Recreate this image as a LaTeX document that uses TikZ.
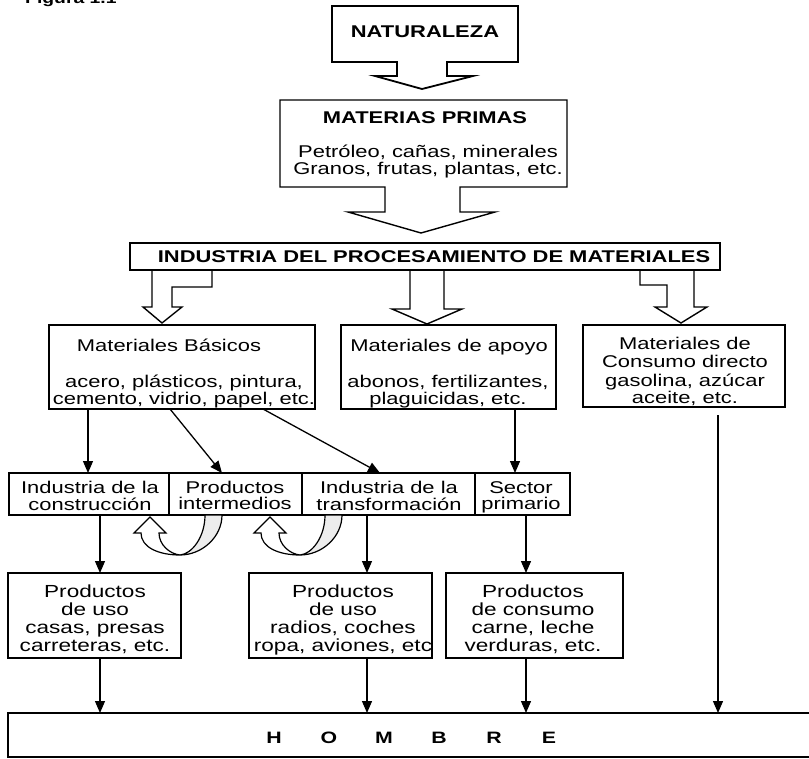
\documentclass[tikz,border=0pt]{standalone}
\usepackage{fontspec}
\setmainfont{Liberation Sans}[FakeStretch=1.29]
\usetikzlibrary{arrows.meta}
\newcommand\ctab[1]{\begin{tabular}[t]{@{}c@{}}#1\end{tabular}}

\begin{document}
\begin{tikzpicture}[x=1pt,y=-1pt,
  box/.style={draw, line width=1.3pt, inner sep=0pt, outer sep=0pt},
  blk/.style={draw, line width=1.4pt, line join=miter},
  txt/.style={anchor=base, inner sep=0pt, font=\fontsize{17}{15.5}\selectfont},
  hdr/.style={txt, font=\fontsize{17}{15.5}\selectfont\bfseries},
  low/.style={anchor=base, inner sep=0pt, font=\fontsize{17.5}{18}\selectfont},
  arr/.style={line width=1.3pt, -{Triangle[length=12pt,width=10pt]}},
  uturn/.pic={
    % twisted band behind the turn
    \filldraw[line width=1.2pt, fill=black!7]
      (0,0) .. controls (22,0) and (42,-18) .. (42,-40)
      -- (25,-40) .. controls (25,-18) and (12,-1) .. (0,0) -- cycle;
    % returning half with its head
    \filldraw[line width=1.2pt, fill=white, line join=miter]
      (0,0) .. controls (-22,0) and (-39,-8) .. (-39,-22)
      -- (-46,-22) -- (-30,-38) -- (-14,-22) -- (-21,-22)
      .. controls (-21,-10) and (-10,-1) .. (0,0) -- cycle;
  }]
\useasboundingbox (0,0) rectangle (809,759);
\clip (0,0) rectangle (809,759);

% caption, cut by the top edge
\node[anchor=base west, inner sep=0pt, font=\fontsize{15}{15}\selectfont\bfseries] (fig) at (25,4) {Figura 1.1};

% NATURALEZA with its downward arrow
\draw[blk, line width=1.8pt] (332,6) -- (518,6) -- (518,62) -- (447,62) -- (447,76) -- (473,76)
  -- (422,89) -- (375,76) -- (397,76) -- (397,62) -- (332,62) -- cycle;
\node[hdr] (nat) at (425,38) {NATURALEZA};

% MATERIAS PRIMAS with its downward arrow
\draw[blk] (280,100) -- (567,100) -- (567,187) -- (460,187) -- (460,212) -- (495,212)
  -- (421,233) -- (348,212) -- (385,212) -- (385,187) -- (280,187) -- cycle;
\node[hdr] (mpt) at (425,124) {MATERIAS PRIMAS};
\node[txt] (mpl) at (428,158) {\ctab{Petróleo, cañas, minerales\\Granos, frutas, plantas, etc.}};

% processing industry bar
\node[box, minimum width=590pt, minimum height=27pt] (ind) at (425,256.5) {};
\node[hdr] (indt) at (434,263) {INDUSTRIA DEL PROCESAMIENTO DE MATERIALES};

% block arrows leaving the bar
\draw[blk] (152,270) -- (152,307) -- (143,307) -- (162,323) -- (182,307) -- (172,307)
  -- (172,287) -- (212,287) -- (212,270);
\draw[blk] (410,270) -- (410,309) -- (392,309) -- (427,324) -- (462,309) -- (444,309) -- (444,270);
\draw[blk] (640,270) -- (640,285) -- (667,285) -- (667,307) -- (655,307) -- (681,323)
  -- (707,307) -- (694,307) -- (694,270);

% material groups
\node[box, minimum width=266pt, minimum height=84pt] (mb) at (182,367) {};
\node[txt] (mbh) at (169,352) {Materiales Básicos};
\node[txt] (mbl) at (184,388) {\ctab{acero, plásticos, pintura,\\cemento, vidrio, papel, etc.}};

\node[box, minimum width=215pt, minimum height=84pt] (ap) at (448.5,367) {};
\node[txt] (aph) at (449,352) {Materiales de apoyo};
\node[txt] (apl) at (448,388) {\ctab{abonos, fertilizantes,\\plaguicidas, etc.}};

\node[box, minimum width=202pt, minimum height=82pt] (cd) at (684,366) {};
\node[txt, font=\fontsize{17}{16}\selectfont] (cdt) at (685,350)
  {\ctab{Materiales de\\Consumo directo\\[2pt]gasolina, azúcar\\aceite, etc.}};

% industries row
\node[box, minimum width=160pt, minimum height=42pt] (r1) at (89,494) {};
\node[box, minimum width=133pt, minimum height=42pt] (r2) at (235.5,494) {};
\node[box, minimum width=173pt, minimum height=42pt] (r3) at (388.5,494) {};
\node[box, minimum width=95pt, minimum height=42pt] (r4) at (522.5,494) {};
\node[txt] (r1t) at (90,493) {\ctab{Industria de la\\construcción}};
\node[txt] (r2t) at (235,493) {\ctab{Productos\\intermedios}};
\node[txt] (r3t) at (389,493) {\ctab{Industria de la\\transformación}};
\node[txt] (r4t) at (521,493) {\ctab{Sector\\primario}};

% returns from intermediate products
\pic at (180,555) {uturn};
\pic at (300,555) {uturn};

% products
\node[box, minimum width=173pt, minimum height=85pt] (p1) at (94.5,615.5) {};
\node[box, minimum width=183pt, minimum height=85pt] (p2) at (340.5,615.5) {};
\node[box, minimum width=177pt, minimum height=85pt] (p3) at (534.5,615.5) {};
\node[low] (p1t) at (95,597) {\ctab{Productos\\de uso\\casas, presas\\carreteras, etc.}};
\node[low] (p2t) at (343,597) {\ctab{Productos\\de uso\\radios, coches\\ropa, aviones, etc}};
\node[low] (p3t) at (533,597) {\ctab{Productos\\de consumo\\carne, leche\\verduras, etc.}};

% HOMBRE
\node[box, minimum width=807pt, minimum height=44pt] (hom) at (411.5,735) {};
\node[anchor=base, inner sep=0pt, font=\fontsize{16.5}{16}\selectfont\bfseries] (homt) at (411.5,743)
  {\makebox[55pt]{H}\makebox[55pt]{O}\makebox[55pt]{M}\makebox[55pt]{B}\makebox[55pt]{R}\makebox[55pt]{E}};

% lanes of the flow arrows
\coordinate (la) at (88,0);
\coordinate (lb) at (100,0);
\coordinate (lc) at (367,0);
\coordinate (ld) at (515,0);
\coordinate (le) at (526,0);
\coordinate (lf) at (718,0);

\draw[arr] (mb.south -| la) -- (r1.north -| la);
\draw[arr] ([xshift=-12pt]mb.south) -- ([xshift=-13.5pt]r2.north);
\draw[arr] ([xshift=81pt]mb.south) -- ([xshift=-8.5pt]r3.north);
\draw[arr] (ap.south -| ld) -- (r4.north -| ld);

\draw[arr] (r1.south -| lb) -- (p1.north -| lb);
\draw[arr] (r3.south -| lc) -- (p2.north -| lc);
\draw[arr] (r4.south -| le) -- (p3.north -| le);

\draw[arr] (p1.south -| lb) -- (hom.north -| lb);
\draw[arr] (p2.south -| lc) -- (hom.north -| lc);
\draw[arr] (p3.south -| le) -- (hom.north -| le);
\draw[arr, shorten <=8pt] (cd.south -| lf) -- (hom.north -| lf);
\end{tikzpicture}
\end{document}
